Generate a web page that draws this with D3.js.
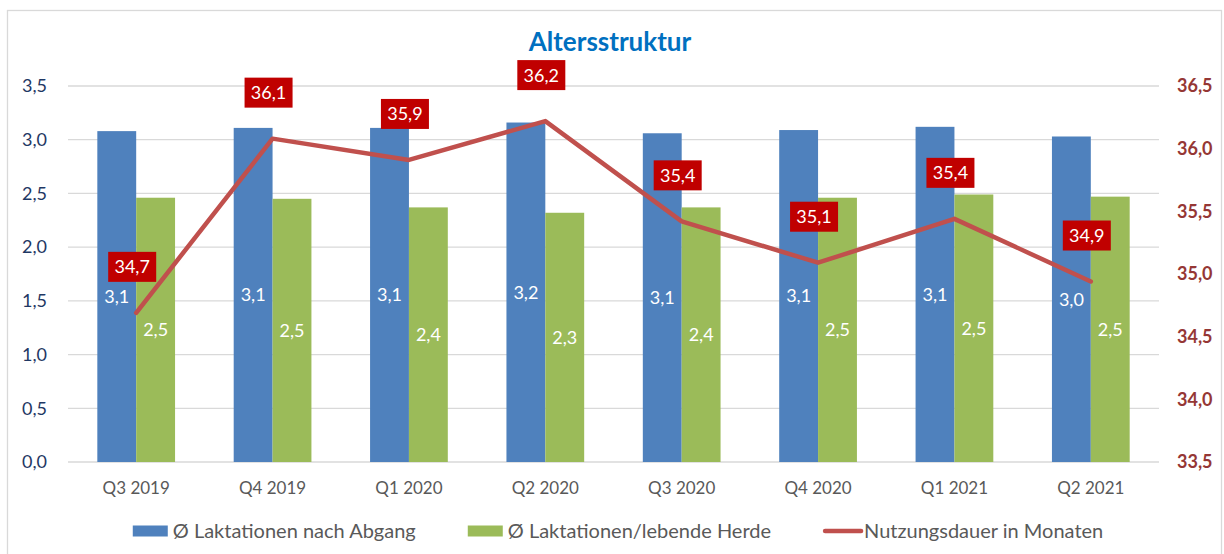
<!DOCTYPE html>
<html>
<head>
<meta charset="utf-8">
<script src="https://cdn.jsdelivr.net/npm/d3@7"></script>
<style>
  body { margin: 0; background: #fff; }
  svg { font-family: Lato, "Open Sans", sans-serif; }
</style>
</head>
<body>
<svg width="1224" height="554"></svg>
<script>
(function (d3) {
    'use strict';

    // Werte
    const quarters = ['Q3 2019', 'Q4 2019', 'Q1 2020', 'Q2 2020', 'Q3 2020', 'Q4 2020', 'Q1 2021', 'Q2 2021'];
    const laktAbgang = [3.08, 3.11, 3.11, 3.16, 3.06, 3.09, 3.12, 3.03];
    const laktHerde = [2.46, 2.45, 2.37, 2.32, 2.37, 2.46, 2.49, 2.47];
    const nutzungsdauer = [34.69, 36.08, 35.91, 36.22, 35.42, 35.09, 35.44, 34.94];
    const leftTicks = [0, 0.5, 1, 1.5, 2, 2.5, 3, 3.5];
    const rightTicks = [33.5, 34, 34.5, 35, 35.5, 36, 36.5];
    const seriesNames = ['Ø Laktationen nach Abgang', 'Ø Laktationen/lebende Herde', 'Nutzungsdauer in Monaten'];

    const blue = '#4F81BD', green = '#9BBB59', red = '#C0504D';
    const fmt = d3.format('.1f');
    const comma = v => fmt(v).replace('.', ',');

    const svg = d3.select('svg');
    const margin = {left: 68, right: 1159, top: 86, bottom: 462};

    // Rahmen
    svg.append('rect')
        .attr('x', 7.5).attr('y', 10.5)
        .attr('width', 1214).attr('height', 560)
        .attr('fill', 'none')
        .attr('stroke', '#D9D9D9')
        .attr('stroke-width', 1.3);

    const x = d3.scaleBand()
        .domain(quarters)
        .range([margin.left, margin.right])
        .paddingInner(0.43)
        .paddingOuter(0.215);

    const xInner = d3.scaleBand()
        .domain(['a', 'h'])
        .range([0, x.bandwidth()]);

    const yLeft = d3.scaleLinear().domain([0, 3.5]).range([margin.bottom, margin.top]);
    const yRight = d3.scaleLinear().domain([33.5, 36.5]).range([margin.bottom, margin.top]);

    // Gitterlinien
    svg.append('g')
        .selectAll('line').data(leftTicks)
        .enter().append('line')
        .attr('x1', margin.left).attr('x2', margin.right)
        .attr('y1', d => yLeft(d)).attr('y2', d => yLeft(d))
        .attr('stroke', '#D9D9D9')
        .attr('stroke-width', 1.3);

    // linke Achse
    const leftAxis = svg.append('g')
        .attr('transform', `translate(${margin.left},0)`)
        .call(d3.axisLeft(yLeft).tickValues(leftTicks).tickFormat(comma).tickSize(0).tickPadding(21));
    leftAxis.select('.domain').remove();
    leftAxis.selectAll('text')
        .attr('fill', '#1F3864')
        .style('font-size', '18px')
        .style('font-family', 'Lato, sans-serif');

    // rechte Achse
    const rightAxis = svg.append('g')
        .attr('transform', `translate(${margin.right},0)`)
        .call(d3.axisRight(yRight).tickValues(rightTicks).tickFormat(comma).tickSize(0).tickPadding(18));
    rightAxis.select('.domain').remove();
    rightAxis.selectAll('text')
        .attr('fill', '#953735')
        .style('font-size', '18px')
        .style('font-weight', 'bold')
        .style('font-family', 'Lato, sans-serif');

    // x-Achse
    const bottomAxis = svg.append('g')
        .attr('transform', `translate(0,${margin.bottom})`)
        .call(d3.axisBottom(x).tickSize(0).tickPadding(20));
    bottomAxis.select('.domain').remove();
    bottomAxis.selectAll('text')
        .attr('fill', '#595959')
        .style('font-size', '17px')
        .style('font-family', 'Lato, sans-serif');

    // Balken
    const groups = svg.append('g')
        .selectAll('g').data(quarters)
        .enter().append('g')
        .attr('transform', d => `translate(${x(d)},0)`);

    const barSeries = [
        {key: 'a', values: laktAbgang, color: blue},
        {key: 'h', values: laktHerde, color: green}
    ];

    barSeries.forEach(s => {
        groups.append('rect')
            .attr('x', xInner(s.key))
            .attr('width', xInner.bandwidth())
            .attr('y', (d, i) => yLeft(s.values[i]))
            .attr('height', (d, i) => yLeft(0) - yLeft(s.values[i]))
            .attr('fill', s.color);

        groups.append('text')
            .attr('x', xInner(s.key) + xInner.bandwidth() / 2)
            .attr('y', (d, i) => (yLeft(s.values[i]) + yLeft(0)) / 2)
            .attr('dy', '0.35em')
            .attr('text-anchor', 'middle')
            .attr('fill', '#fff')
            .style('font-size', '18px')
            .text((d, i) => comma(s.values[i]));
    });

    // Linie
    const line = d3.line()
        .x((d, i) => x(quarters[i]) + x.bandwidth() / 2)
        .y(d => yRight(d));

    svg.append('path')
        .datum(nutzungsdauer)
        .attr('d', line)
        .attr('fill', 'none')
        .attr('stroke', red)
        .attr('stroke-width', 4.5)
        .attr('stroke-linecap', 'round')
        .attr('stroke-linejoin', 'round');

    // Datenbeschriftungen der Linie
    const labels = svg.append('g')
        .selectAll('g').data(nutzungsdauer)
        .enter().append('g')
        .attr('transform', (d, i) =>
            `translate(${x(quarters[i]) + x.bandwidth() / 2 - 4},${yRight(d) - 46})`);

    labels.append('rect')
        .attr('x', -24).attr('y', -15)
        .attr('width', 48).attr('height', 30)
        .attr('fill', '#C00000');

    labels.append('text')
        .attr('text-anchor', 'middle')
        .attr('dy', '0.36em')
        .attr('fill', '#fff')
        .style('font-size', '18px')
        .text(d => comma(d));

    // Titel
    svg.append('text')
        .attr('x', 610).attr('y', 51)
        .attr('text-anchor', 'middle')
        .attr('fill', '#0070C0')
        .style('font-size', '26px')
        .style('font-weight', 'bold')
        .text('Altersstruktur');

    // Legende
    const legend = svg.append('g').attr('transform', 'translate(0,531)');
    const items = [
        {name: seriesNames[0], color: blue, type: 'rect'},
        {name: seriesNames[1], color: green, type: 'rect'},
        {name: seriesNames[2], color: red, type: 'line'}
    ];
    const gap = 52;
    let cx = 0;
    items.forEach(it => {
        const g = legend.append('g').attr('transform', `translate(${cx},0)`);
        let sw;
        if (it.type === 'rect') {
            g.append('rect')
                .attr('x', 0).attr('y', -5.5)
                .attr('width', 35).attr('height', 11)
                .attr('fill', it.color);
            sw = 40;
        } else {
            g.append('line')
                .attr('x1', 2).attr('x2', 38)
                .attr('y1', 0).attr('y2', 0)
                .attr('stroke', it.color)
                .attr('stroke-width', 4.5)
                .attr('stroke-linecap', 'round');
            sw = 41;
        }
        const t = g.append('text')
            .attr('x', sw)
            .attr('dy', '0.35em')
            .attr('fill', '#595959')
            .style('font-size', '20px')
            .text(it.name);
        cx += sw + t.node().getComputedTextLength() + gap;
    });
    const totalW = cx - gap;
    legend.attr('transform', `translate(${618 - totalW / 2},531)`);

}(d3));
</script>
</body>
</html>
